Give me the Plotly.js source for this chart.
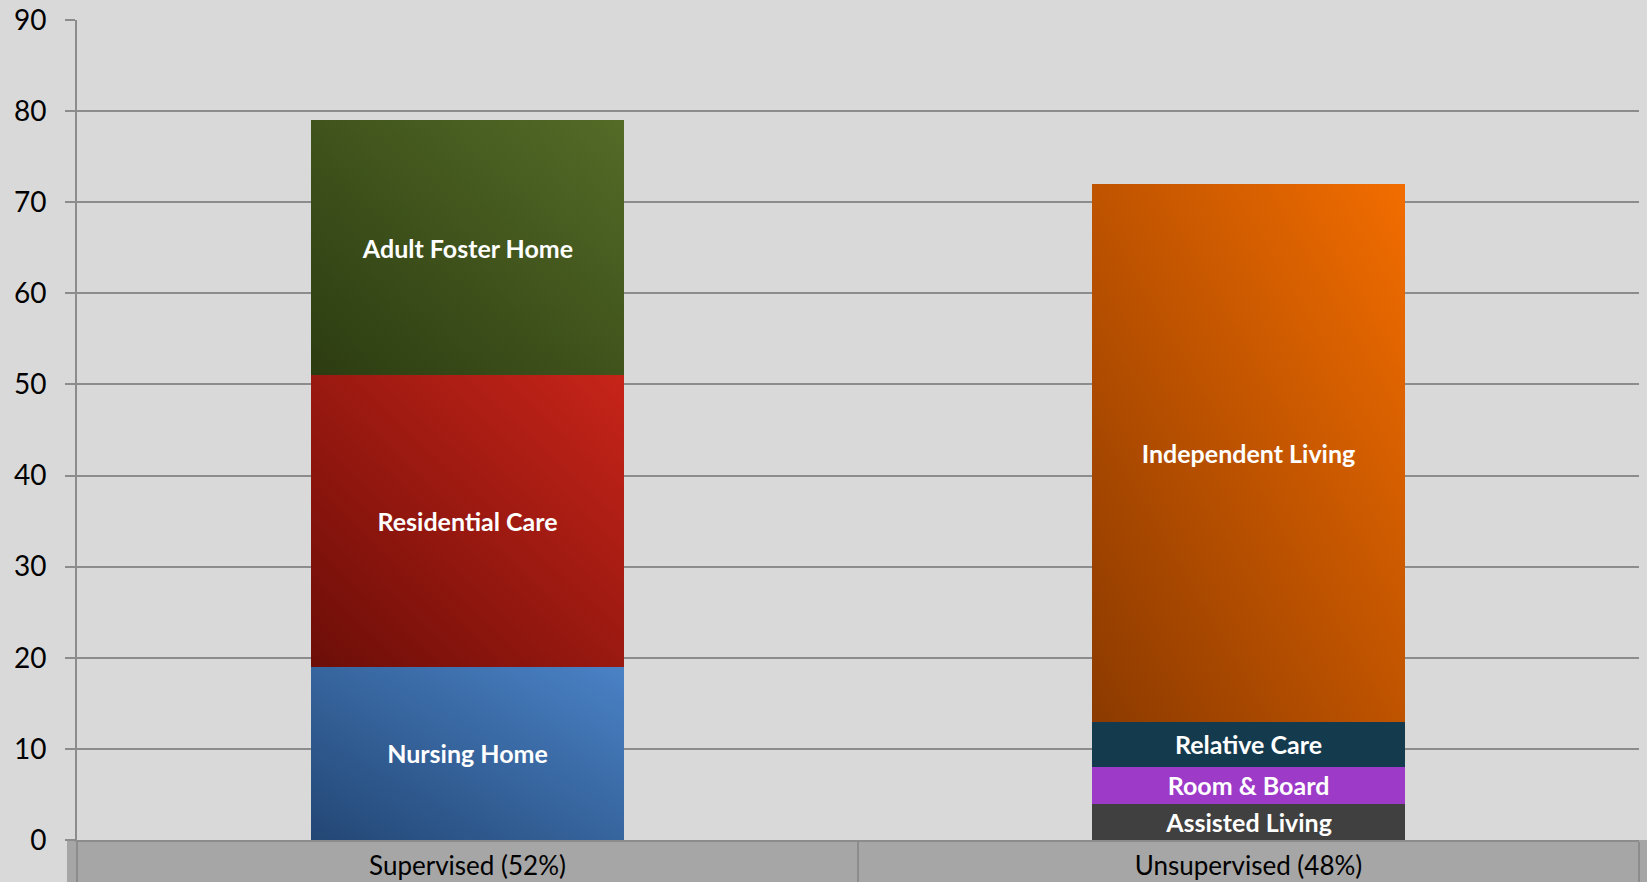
<!DOCTYPE html>
<html>
<head>
<meta charset="utf-8">
<script src="https://cdn.plot.ly/plotly-3.0.1.min.js"></script>
<style>
html,body{margin:0;padding:0;background:#d9d9d9;}
#chart{width:1647px;height:882px;}
</style>
</head>
<body>
<div id="chart"></div>
<script>
// ---- data ----
const categories = ["Supervised (52%)", "Unsupervised (48%)"];
const seriesNames = ["Nursing Home", "Residential Care", "Adult Foster Home",
                     "Assisted Living", "Room & Board", "Relative Care", "Independent Living"];
const nursingHome      = [19, null];
const residentialCare  = [32, null];
const adultFosterHome  = [28, null];
const assistedLiving   = [null, 4];
const roomAndBoard     = [null, 4];
const relativeCare     = [null, 5];
const independentLiving= [null, 59];
const yTickVals = [0,10,20,30,40,50,60,70,80,90];

// ---- styles ----
const darkColors  = ["#234775", "#6c0e08", "#2c3c11", "#404040", "#9d3ac8", "#143a4e", "#8c3a00"];
const lightColors = ["#4a82c6", "#c72419", "#546b27", "#404040", "#9d3ac8", "#143a4e", "#f26d00"];
const midColors   = ["#3a68a4", "#a01c12", "#435620", "#404040", "#9d3ac8", "#143a4e", "#c05400"];

const seriesValues = [nursingHome, residentialCare, adultFosterHome,
                      assistedLiving, roomAndBoard, relativeCare, independentLiving];

const traces = seriesValues.map((vals, i) => ({
  type: "bar",
  name: seriesNames[i],
  x: categories,
  y: vals,
  text: vals.map(v => v == null ? "" : seriesNames[i]),
  texttemplate: "%{text}",
  textposition: "inside",
  insidetextanchor: "middle",
  constraintext: "none",
  textfont: {family: "Lato, 'Open Sans', sans-serif", size: 25, color: "#ffffff", weight: "bold"},
  marker: {color: midColors[i], line: {width: 0}},
  hoverinfo: "skip"
}));

const gridGray = "#8c8c8c";

const layout = {
  width: 1647, height: 882,
  paper_bgcolor: "#d9d9d9",
  plot_bgcolor: "#d9d9d9",
  barmode: "stack",
  bargap: 0.6,
  showlegend: false,
  margin: {l: 77, r: 8, t: 20, b: 42, pad: 0},
  font: {family: "Lato, 'Open Sans', sans-serif", color: "#000000"},
  xaxis: {
    type: "category",
    categoryarray: categories,
    showgrid: false,
    showline: true, linecolor: gridGray, linewidth: 2,
    ticks: "outside", tickson: "boundaries", ticklen: 42, tickwidth: 2, tickcolor: gridGray,
    ticklabelstandoff: 2,
    tickfont: {size: 26, color: "#000000"},
    fixedrange: true
  },
  yaxis: {
    range: [0, 90],
    tickvals: yTickVals,
    showgrid: true, gridcolor: gridGray, gridwidth: 2,
    zeroline: false,
    showline: true, linecolor: gridGray, linewidth: 2,
    ticks: "outside", ticklen: 10, tickwidth: 2, tickcolor: gridGray,
    tickfont: {size: 28, color: "#000000"},
    ticklabelstandoff: 13,
    fixedrange: true
  },
  shapes: [{
    type: "rect", xref: "paper", yref: "paper", layer: "below",
    x0: -10/1562, x1: 1 + 8/1562, y0: -42/820, y1: 0,
    fillcolor: "#a6a6a6", line: {width: 0}
  }]
};

Plotly.newPlot("chart", traces, layout, {staticPlot: true}).then(gd => {
  const svg = gd.querySelector(".main-svg");
  let defs = svg.querySelector("defs");
  const ns = "http://www.w3.org/2000/svg";
  darkColors.forEach((c, i) => {
    const g = document.createElementNS(ns, "linearGradient");
    g.setAttribute("id", "barGrad" + i);
    g.setAttribute("x1", "0"); g.setAttribute("y1", "1");
    g.setAttribute("x2", "1"); g.setAttribute("y2", "0");
    const s1 = document.createElementNS(ns, "stop");
    s1.setAttribute("offset", "0"); s1.setAttribute("stop-color", c);
    const s2 = document.createElementNS(ns, "stop");
    s2.setAttribute("offset", "1"); s2.setAttribute("stop-color", lightColors[i]);
    g.appendChild(s1); g.appendChild(s2);
    defs.appendChild(g);
  });
  gd.querySelectorAll(".barlayer .trace").forEach((tr, i) => {
    tr.querySelectorAll(".point path").forEach(p => {
      p.style.fill = "url(#barGrad" + i + ")";
    });
  });
});
</script>
</body>
</html>
